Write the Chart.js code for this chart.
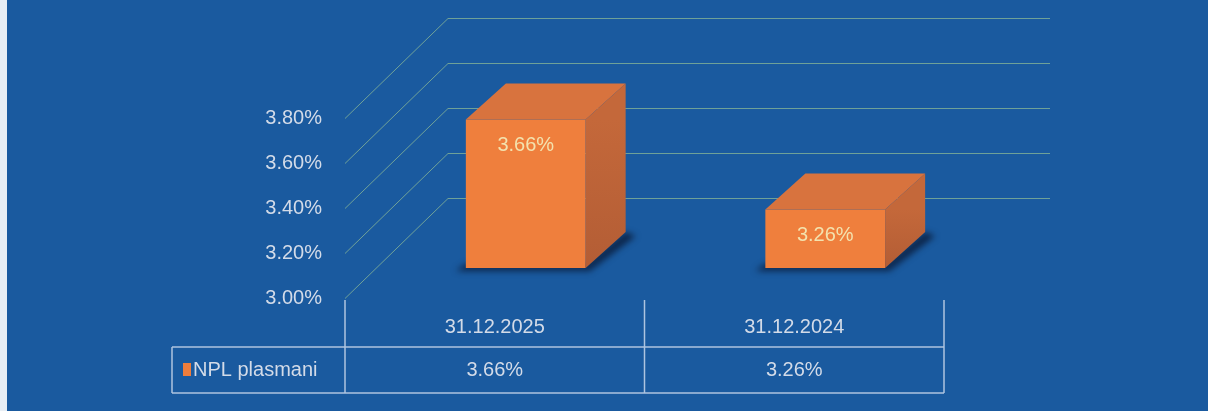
<!DOCTYPE html>
<html>
<head>
<meta charset="utf-8">
<script src="https://cdn.jsdelivr.net/npm/chart.js@4.4.1/dist/chart.umd.min.js"></script>
<style>
  html, body { margin: 0; padding: 0; background: #1b5a9f; }
  #wrap { width: 1208px; height: 411px; }
</style>
</head>
<body>
<div id="wrap"><canvas id="nplChart" width="1208" height="411"></canvas></div>
<script>
// podaci
var kategorije = ['31.12.2025', '31.12.2024'];
var nplPlasmani = [3.66, 3.26];
var nazivSerije = 'NPL plasmani';
var yMin = 3.0, yMax = 3.8, yKorak = 0.2;

// 3d izgled (dubina zida i stupca)
var DUB_X = 103, DUB_Y = -100;     // puna dubina
var BAR_X = 31, BAR_Y = -30;       // pomak prednje strane stupca
var DEB_X = 40, DEB_Y = -36;       // debljina stupca
var gridBoja = 'rgba(140,185,150,0.75)';
var tekstBoja = '#d3dbe8';
var font = "'Liberation Sans', Arial, sans-serif";

function pct(v) { return v.toFixed(2) + '%'; }

var plugin3d = {
	id: 'plugin3d',
	beforeDraw: function(chart) {
		var ctx = chart.ctx;
		ctx.save();
		ctx.fillStyle = '#1a5a9f';
		ctx.fillRect(0, 0, chart.width, chart.height);
		ctx.fillStyle = '#e8eef4';
		ctx.fillRect(0, 0, 7, chart.height);
		ctx.restore();
	},
	beforeDatasetsDraw: function(chart) {
		var ctx = chart.ctx, a = chart.chartArea, y = chart.scales.y;
		// zidovi - linije mreze
		ctx.save();
		ctx.strokeStyle = gridBoja;
		ctx.lineWidth = 1;
		y.ticks.forEach(function(t) {
			var py = Math.round(y.getPixelForValue(t.value)) + 0.5;
			ctx.beginPath();
			ctx.moveTo(a.left, py);
			ctx.lineTo(a.left + DUB_X, py + DUB_Y);
			ctx.lineTo(a.right + DUB_X + 3, py + DUB_Y);
			ctx.stroke();
		});
		ctx.restore();
		// sjena ispod stupaca
		var meta = chart.getDatasetMeta(0);
		ctx.save();
		ctx.translate(BAR_X, BAR_Y);
		ctx.filter = 'blur(3px)';
		ctx.fillStyle = 'rgba(8,20,45,0.75)';
		meta.data.forEach(function(bar) {
			var x1 = bar.x - bar.width / 2, x2 = bar.x + bar.width / 2, yb = bar.base;
			ctx.beginPath();
			ctx.moveTo(x1 - 10, yb + 3);
			ctx.lineTo(x2 + 4, yb + 3);
			ctx.lineTo(x2 + DEB_X + 10, yb + DEB_Y + 4);
			ctx.lineTo(x2 + DEB_X, yb + DEB_Y);
			ctx.lineTo(x2, yb - 4);
			ctx.lineTo(x1, yb - 4);
			ctx.closePath();
			ctx.fill();
		});
		ctx.restore();
		ctx.save();
		ctx.translate(BAR_X, BAR_Y);
	},
	afterDatasetsDraw: function(chart) {
		var ctx = chart.ctx;
		var meta = chart.getDatasetMeta(0);
		meta.data.forEach(function(bar, i) {
			var x1 = bar.x - bar.width / 2, x2 = bar.x + bar.width / 2;
			var yt = bar.y, yb = bar.base;
			// gornja strana
			ctx.beginPath();
			ctx.moveTo(x1, yt);
			ctx.lineTo(x1 + DEB_X, yt + DEB_Y);
			ctx.lineTo(x2 + DEB_X, yt + DEB_Y);
			ctx.lineTo(x2, yt);
			ctx.closePath();
			ctx.fillStyle = '#d8733e';
			ctx.fill();
			// bocna strana
			var g = ctx.createLinearGradient(0, yt, 0, yb);
			g.addColorStop(0, '#c4683a');
			g.addColorStop(1, '#b35d35');
			ctx.beginPath();
			ctx.moveTo(x2, yt);
			ctx.lineTo(x2 + DEB_X, yt + DEB_Y);
			ctx.lineTo(x2 + DEB_X, yb + DEB_Y);
			ctx.lineTo(x2, yb);
			ctx.closePath();
			ctx.fillStyle = g;
			ctx.fill();
			// oznaka vrijednosti
			ctx.fillStyle = '#f3e2ae';
			ctx.font = '20px ' + font;
			ctx.textAlign = 'center';
			ctx.textBaseline = 'middle';
			ctx.fillText(pct(nplPlasmani[i]), bar.x, yt + 26);
		});
		ctx.restore();
	},
	afterDraw: function(chart) {
		var ctx = chart.ctx, a = chart.chartArea, x = chart.scales.x;
		var n = kategorije.length;
		var sirina = (a.right - a.left) / n;
		var redGore = 347, redDolje = 393, lijevo = 172;
		ctx.save();
		ctx.strokeStyle = 'rgba(200,215,235,0.85)';
		ctx.lineWidth = 1.5;
		ctx.beginPath();
		for (var i = 0; i <= n; i++) {
			var px = a.left + i * sirina;
			ctx.moveTo(px, a.bottom + 2);
			ctx.lineTo(px, redDolje);
		}
		ctx.moveTo(lijevo, redGore); ctx.lineTo(a.right, redGore);
		ctx.moveTo(lijevo, redDolje); ctx.lineTo(a.right, redDolje);
		ctx.moveTo(lijevo, redGore); ctx.lineTo(lijevo, redDolje);
		ctx.stroke();
		var srednja = (redGore + redDolje) / 2;
		// legenda u tablici
		ctx.fillStyle = '#ee7d3c';
		ctx.fillRect(lijevo + 11, srednja - 7, 8, 13);
		ctx.fillStyle = tekstBoja;
		ctx.font = '20px ' + font;
		ctx.textBaseline = 'middle';
		ctx.textAlign = 'left';
		ctx.fillText(nazivSerije, lijevo + 21, srednja);
		ctx.textAlign = 'center';
		nplPlasmani.forEach(function(v, i) {
			ctx.fillText(pct(v), x.getPixelForValue(i), srednja);
		});
		ctx.restore();
	}
};

var ctx = document.getElementById('nplChart');
var grafikon = new Chart(ctx, {
	type: 'bar',
	data: {
		labels: kategorije,
		datasets: [{
			label: nazivSerije,
			data: nplPlasmani,
			base: yMin,
			backgroundColor: function(c) {
				var ch = c.chart, el = c.element;
				if (!el || !ch.chartArea || !isFinite(el.x) || !isFinite(el.width)) return '#ef7f3d';
				var x1 = el.x - el.width / 2, x2 = el.x + el.width / 2;
				var g = ch.ctx.createLinearGradient(x1, 0, x2, 0);
				g.addColorStop(0, '#e8773a');
				g.addColorStop(0.5, '#f3883f');
				g.addColorStop(1, '#ea7a3a');
				return g;
			},
			borderWidth: 0,
			barPercentage: 0.4,
			categoryPercentage: 1.0,
			clip: false
		}]
	},
	options: {
		responsive: false,
		animation: false,
		devicePixelRatio: 1,
		layout: { padding: { left: 0, right: 264, top: 118, bottom: 0 } },
		plugins: {
			legend: { display: false },
			tooltip: { enabled: false }
		},
		scales: {
			x: {
				grid: { display: false, drawTicks: false },
				border: { display: false },
				ticks: { color: tekstBoja, font: { family: font, size: 20 }, padding: 17 },
				afterFit: function(s) { s.height = 113; }
			},
			y: {
				min: yMin,
				max: yMax,
				grid: { display: false, drawTicks: false },
				border: { display: false },
				ticks: {
					stepSize: yKorak,
					color: tekstBoja,
					font: { family: font, size: 20 },
					padding: 23,
					callback: function(v) { return pct(v); }
				},
				afterFit: function(s) { s.width = 345; }
			}
		}
	},
	plugins: [plugin3d]
});
</script>
</body>
</html>
